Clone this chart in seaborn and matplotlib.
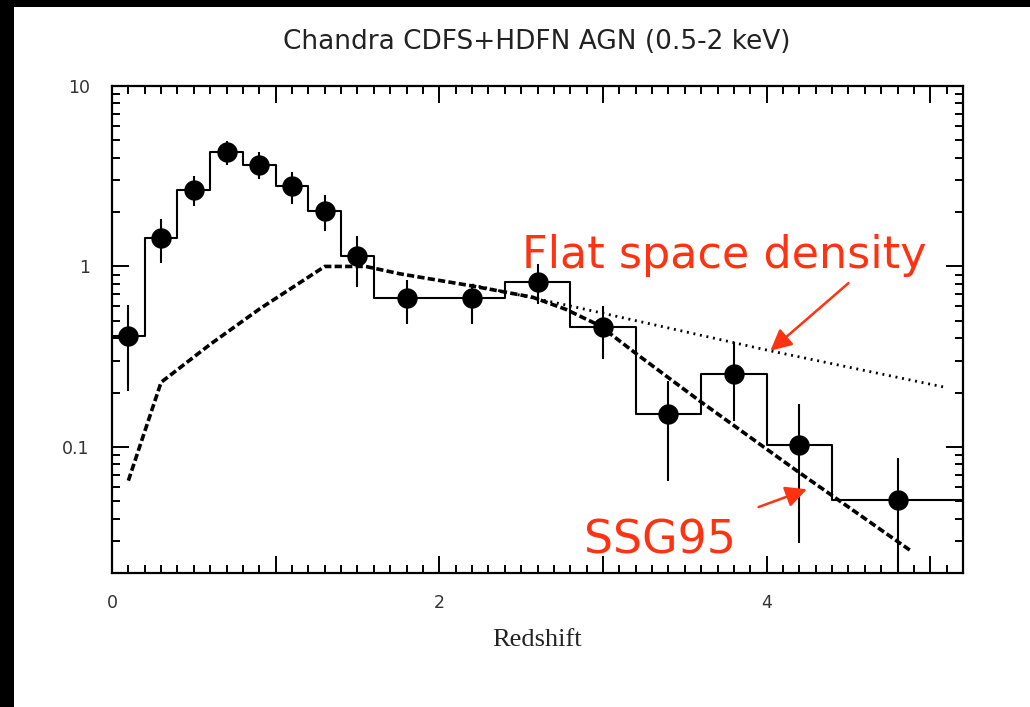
import matplotlib
matplotlib.use("Agg")
import matplotlib.pyplot as plt
from matplotlib.patches import Rectangle
from matplotlib.ticker import (FixedLocator, FixedFormatter, MultipleLocator,
                               LogLocator, NullFormatter, FuncFormatter)
import seaborn as sns

# Binned AGN counts versus redshift (points sit at bin centres)
redshift = [0.1, 0.3, 0.5, 0.7, 0.9, 1.1, 1.3, 1.5, 1.8, 2.2, 2.6, 3.0, 3.4, 3.8, 4.2, 4.8]
counts = [0.41, 1.43, 2.64, 4.31, 3.67, 2.78, 2.03, 1.14, 0.67, 0.67, 0.82, 0.46,
          0.153, 0.255, 0.102, 0.0506]
err_low = [0.205, 1.04, 2.15, 3.64, 3.04, 2.21, 1.58, 0.774, 0.48, 0.48, 0.62, 0.307,
           0.065, 0.139, 0.0294, 0.015]
err_high = [0.61, 1.84, 3.18, 4.95, 4.31, 3.34, 2.48, 1.47, 0.836, 0.80, 1.035, 0.607,
            0.233, 0.38, 0.173, 0.0865]
bin_edges = [0.0, 0.2, 0.4, 0.6, 0.8, 1.0, 1.2, 1.4, 1.6, 2.0, 2.4, 2.8, 3.2, 3.6,
             4.0, 4.4, 5.2]

# SSG95 model prediction (dashed)
ssg_z = [0.1, 0.3, 0.6, 0.9, 1.3, 1.55, 1.76, 2.2, 2.57, 2.77, 2.98, 3.2, 3.59, 4.2, 4.88]
ssg_n = [0.065, 0.228, 0.37, 0.58, 1.0, 1.0, 0.91, 0.78, 0.675, 0.58, 0.47, 0.33,
         0.18, 0.072, 0.0266]

# Flat space density model (dotted)
flat_z = [2.2, 2.79, 4.02, 5.09]
flat_n = [0.79, 0.607, 0.341, 0.214]

title = "Chandra CDFS+HDFN AGN (0.5-2 keV)"
x_label = "Redshift"
y_ticks = [0.1, 1, 10]
y_tick_labels = ["0.1", "1", "10"]
red = "#ff3311"

sns.set_style("ticks")
plt.rcParams["font.family"] = ["DejaVu Sans"]

fig = plt.figure(figsize=(10.30, 7.07), dpi=100)
ax = fig.add_axes([112 / 1030, 1 - 573 / 707, 851 / 1030, 487 / 707])

# histogram outline
step_y = counts + [counts[-1]]
sns.lineplot(x=bin_edges, y=step_y, drawstyle="steps-post", color="black",
             lw=1.5, estimator=None, sort=False, ax=ax, zorder=3)

# model curves
sns.lineplot(x=ssg_z, y=ssg_n, color="black", lw=2.6, estimator=None,
             sort=False, ax=ax, zorder=4)
ax.lines[-1].set_dashes((2.0, 0.9))
sns.lineplot(x=flat_z, y=flat_n, color="black", lw=2.0, estimator=None,
             sort=False, ax=ax, zorder=4)
ax.lines[-1].set_dashes((0.7, 1.7))

# error bars and points
ax.vlines(redshift, err_low, err_high, color="black", lw=1.5, zorder=5)
sns.scatterplot(x=redshift, y=counts, s=215, color="black", edgecolor="black",
                linewidth=0, ax=ax, zorder=6)

ax.set_yscale("log")
ax.set_xlim(0, 5.2)
ax.set_ylim(0.02, 10)

ax.xaxis.set_major_locator(MultipleLocator(1))
ax.xaxis.set_minor_locator(MultipleLocator(0.1))
ax.xaxis.set_major_formatter(
    FuncFormatter(lambda v, p: f"{int(round(v))}" if int(round(v)) % 2 == 0 else ""))
ax.yaxis.set_major_locator(FixedLocator(y_ticks))
ax.yaxis.set_major_formatter(FixedFormatter(y_tick_labels))
ax.yaxis.set_minor_locator(LogLocator(base=10, subs=range(2, 10)))
ax.yaxis.set_minor_formatter(NullFormatter())

ax.tick_params(which="both", direction="in", top=True, right=True,
               width=1.4, colors="black", labelcolor="#333333", labelsize=12.5)
ax.tick_params(which="major", length=12.5)
ax.tick_params(which="minor", length=6)
ax.tick_params(axis="y", which="major", pad=16)
ax.tick_params(axis="x", which="major", pad=15)
for sp in ax.spines.values():
    sp.set_linewidth(1.6)
    sp.set_color("black")

ax.set_xlabel(x_label, family="Liberation Serif", fontsize=19, color="#222222")
ax.xaxis.set_label_coords(0.5, -0.115)

fig.text(537 / 1030, 1 - 42 / 707, title, ha="center", va="center",
         fontsize=19, color="#222222")

# annotations
ax.text(2.506, 0.975, "Flat space density", fontsize=32, color=red,
        ha="left", va="baseline", zorder=7)
ax.annotate("", xy=(4.023, 0.341), xytext=(4.5, 0.808),
            arrowprops=dict(arrowstyle="-|>", color=red, lw=1.8,
                            mutation_scale=32, shrinkA=0, shrinkB=0), zorder=7)
ax.text(2.884, 0.0255, "SSG95", fontsize=33, color=red,
        ha="left", va="baseline", zorder=7)
ax.annotate("", xy=(4.246, 0.0582), xytext=(3.951, 0.0464),
            arrowprops=dict(arrowstyle="-|>", color=red, lw=1.8,
                            mutation_scale=32, shrinkA=0, shrinkB=0), zorder=7)

# dark frame strips along the left and top edges
fig.add_artist(Rectangle((0, 0), 14 / 1030, 1, transform=fig.transFigure,
                         facecolor="black", edgecolor="none", zorder=0))
fig.add_artist(Rectangle((0, 1 - 7 / 707), 1, 7 / 707, transform=fig.transFigure,
                         facecolor="black", edgecolor="none", zorder=0))

fig.savefig("out.png", dpi=100, facecolor="white")
